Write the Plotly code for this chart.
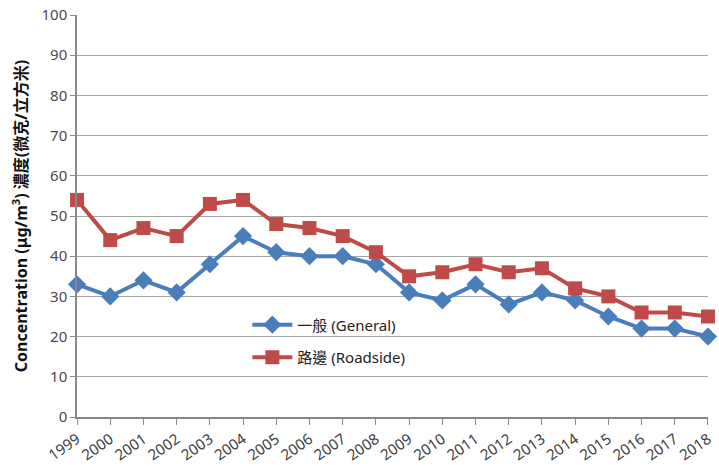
import plotly.graph_objects as go

years = list(range(1999, 2019))
general = [33, 30, 34, 31, 38, 45, 41, 40, 40, 38, 31, 29, 33, 28, 31, 29, 25, 22, 22, 20]
roadside = [54, 44, 47, 45, 53, 54, 48, 47, 45, 41, 35, 36, 38, 36, 37, 32, 30, 26, 26, 25]
y_ticks = list(range(0, 101, 10))

font_family = "Noto Sans, Noto Sans CJK TC, sans-serif"

fig = go.Figure()
fig.add_trace(go.Scatter(
    x=years, y=general, mode="lines+markers", name="一般 (General)",
    line=dict(color="#4a7ebb", width=4),
    marker=dict(symbol="diamond", size=14, color="#4a7ebb"),
    cliponaxis=False, legendgroup="g",
))
fig.add_trace(go.Scatter(
    x=years, y=roadside, mode="lines+markers", name="路邊 (Roadside)",
    line=dict(color="#be4b48", width=4),
    marker=dict(symbol="square", size=14, color="#be4b48"),
    cliponaxis=False, legendgroup="r",
))

fig.update_layout(
    width=719, height=469,
    margin=dict(l=77, r=4, t=15, b=52),
    paper_bgcolor="white", plot_bgcolor="white",
    font=dict(family=font_family, color="#404040"),
    showlegend=True,
    legend=dict(
        x=0.27, y=0.27, xanchor="left", yanchor="top",
        bgcolor="rgba(0,0,0,0)", font=dict(size=15, color="#222222"),
        traceorder="grouped", tracegroupgap=10, itemwidth=40,
    ),
)
fig.update_xaxes(
    range=[1998.999, 2018.001], tickvals=years, ticktext=[str(y) for y in years],
    tickangle=-35, tickfont=dict(size=15, color="#404040"),
    ticklabeloverflow="allow",
    showgrid=False, showline=True, linecolor="#888888", linewidth=1.5,
    ticks="outside", ticklen=6, tickcolor="#888888", zeroline=False,
)
fig.update_yaxes(
    range=[0, 100], tickvals=y_ticks, tickfont=dict(size=15, color="#4a4a4a"),
    showgrid=True, gridcolor="#a6a6a6", gridwidth=1.2,
    showline=True, linecolor="#888888", linewidth=1.5,
    ticks="outside", ticklen=5, tickcolor="#888888", zeroline=False,
    title=dict(
        text="<b>Concentration (μg/m<sup>3</sup>) 濃度(微克/立方米)</b>",
        font=dict(size=16, color="#111111"), standoff=10,
    ),
)

fig.write_html("out.html")
